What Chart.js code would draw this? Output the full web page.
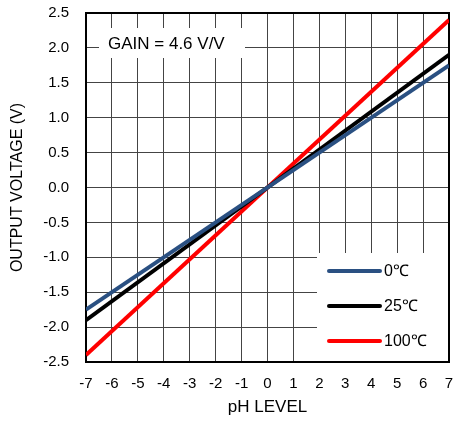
<!DOCTYPE html>
<html>
<head>
<meta charset="utf-8">
<script src="https://cdn.jsdelivr.net/npm/chart.js@4"></script>
<style>
  body { margin: 0; background: #fff; }
</style>
</head>
<body>
<canvas id="phChart" width="453" height="427"></canvas>
<script>
// pH level end points of each line
const phLevels = [-7, 7];
const temps = ["0\u2103", "25\u2103", "100\u2103"];
const out0 = [-1.75, 1.75];
const out25 = [-1.9, 1.9];
const out100 = [-2.4, 2.4];
const colors = ["#2a5082", "#000000", "#ff0000"];
const gainText = "GAIN = 4.6 V/V";

const font = "'Liberation Sans', Arial, sans-serif";

function pts(vals) {
  return phLevels.map((x, i) => ({ x: x, y: vals[i] }));
}

// white boxes, frame and text drawn over the grid
const overlay = {
  id: "overlay",
  beforeDatasetsDraw(chart) {
    const c = chart.ctx;
    const a = chart.chartArea;
    c.save();
    c.fillStyle = "#fff";
    c.fillRect(a.left + 13, a.top + 15, 146, 30);
    c.fillRect(a.left + 231, a.bottom - 109, a.right - a.left - 231, 109);
    c.strokeStyle = "#000";
    c.lineWidth = 2;
    c.strokeRect(a.left, a.top, a.right - a.left, a.bottom - a.top);
    c.fillStyle = "#000";
    c.font = "17px " + font;
    c.textBaseline = "middle";
    c.fillText(gainText, a.left + 22, a.top + 31);
    c.font = "16px " + font;
    chart.data.datasets.forEach((ds, i) => {
      const y = a.bottom - 91 + i * 35;
      c.strokeStyle = ds.borderColor;
      c.lineWidth = 4;
      c.lineCap = "round";
      c.beginPath();
      c.moveTo(a.left + 243, y);
      c.lineTo(a.left + 294, y);
      c.stroke();
      c.fillText(ds.label, a.left + 298, y + 1);
    });
    c.restore();
  }
};

function noPad(s) {
  s.paddingTop = 0;
  s.paddingBottom = 0;
  s.paddingLeft = 0;
  s.paddingRight = 0;
}

const ctx = document.getElementById("phChart").getContext("2d");

const phChart = new Chart(ctx, {
  type: "scatter",
  data: {
    datasets: [
      { label: temps[0], data: pts(out0), borderColor: colors[0] },
      { label: temps[1], data: pts(out25), borderColor: colors[1] },
      { label: temps[2], data: pts(out100), borderColor: colors[2] },
    ].map(d => Object.assign(d, {
      showLine: true,
      borderWidth: 4,
      pointRadius: 0,
      backgroundColor: d.borderColor,
    })),
  },
  options: {
    responsive: false,
    animation: false,
    layout: { autoPadding: false, padding: { top: 13, right: 4, left: 0, bottom: 0 } },
    plugins: { legend: { display: false }, tooltip: { enabled: false } },
    scales: {
      x: {
        type: "linear",
        min: -7,
        max: 7,
        ticks: { stepSize: 1, color: "#000", font: { family: font, size: 15 }, padding: 13 },
        grid: { color: "#444", lineWidth: 1, drawTicks: false },
        border: { color: "#000", width: 2 },
        title: { display: true, text: "pH LEVEL", color: "#000", font: { family: font, size: 17 }, padding: { top: 0, bottom: 9 } },
        afterFit(s) { s.height = 65; noPad(s); },
      },
      y: {
        min: -2.5,
        max: 2.5,
        ticks: {
          stepSize: 0.5,
          color: "#000",
          font: { family: font, size: 15 },
          padding: 17,
          callback: v => v.toFixed(1),
        },
        grid: { color: "#444", lineWidth: 1, drawTicks: false },
        border: { color: "#000", width: 2 },
        title: { display: true, text: "OUTPUT VOLTAGE (V)", color: "#000", font: { family: font, size: 16 }, padding: 8 },
        afterFit(s) { s.width = 86; noPad(s); },
      },
    },
  },
  plugins: [overlay],
});
</script>
</body>
</html>
